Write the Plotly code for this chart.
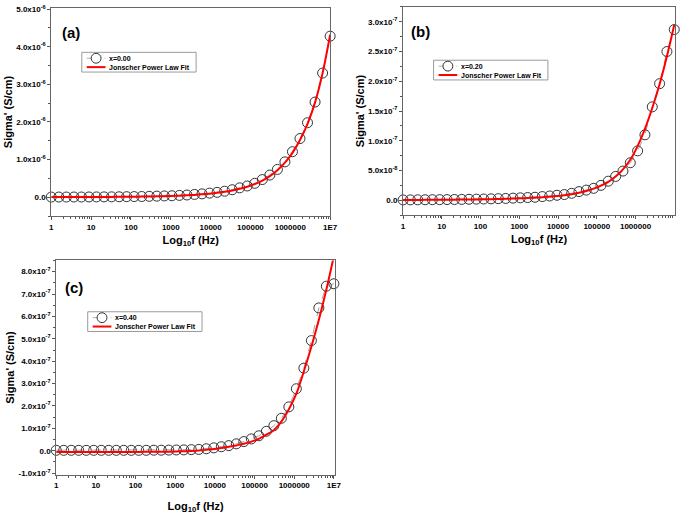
import plotly.graph_objects as go

# ---------------- data ----------------
freq_hz = [1, 1.546, 2.390, 3.695, 5.712, 8.830, 13.65, 21.10, 32.62, 50.43,
           77.96, 120.5, 186.3, 288.0, 445.3, 688.4, 1064, 1645, 2543, 3932,
           6079, 9397, 14530, 22460, 34720, 53680, 82990, 128300, 198300, 306700,
           474100, 732900, 1133000, 1751000, 2707000, 4185000, 6470000, 10000000]

# panel (a) x=0.00, units of 1e-6 S/cm
sigma_a = [0.005, 0.006, 0.006, 0.007, 0.007, 0.008, 0.009, 0.010, 0.011, 0.013,
           0.015, 0.018, 0.020, 0.025, 0.030, 0.035, 0.040, 0.050, 0.060, 0.075,
           0.09, 0.11, 0.13, 0.16, 0.20, 0.25, 0.30, 0.37, 0.47, 0.59,
           0.74, 0.94, 1.21, 1.56, 1.98, 2.53, 3.30, 4.28]
fit_a = [0.004, 0.005, 0.005, 0.006, 0.006, 0.007, 0.008, 0.009, 0.010, 0.011,
         0.012, 0.014, 0.017, 0.020, 0.025, 0.030, 0.036, 0.043, 0.052, 0.063,
         0.077, 0.095, 0.117, 0.145, 0.18, 0.225, 0.28, 0.35, 0.44, 0.56,
         0.72, 0.92, 1.18, 1.52, 1.95, 2.52, 3.30, 4.32]

# panel (b) x=0.20, units of 1e-7 S/cm
sigma_b = [0.005, 0.006, 0.007, 0.008, 0.009, 0.010, 0.011, 0.012, 0.014, 0.016,
           0.018, 0.020, 0.023, 0.026, 0.030, 0.035, 0.040, 0.045, 0.050, 0.061,
           0.071, 0.083, 0.095, 0.116, 0.145, 0.17, 0.20, 0.25, 0.32, 0.40,
           0.49, 0.63, 0.83, 1.10, 1.57, 1.96, 2.50, 2.87]
fit_b = [0.004, 0.005, 0.005, 0.006, 0.007, 0.008, 0.009, 0.010, 0.011, 0.012,
         0.014, 0.016, 0.018, 0.021, 0.024, 0.028, 0.032, 0.037, 0.043, 0.050,
         0.060, 0.070, 0.083, 0.10, 0.125, 0.155, 0.195, 0.245, 0.31, 0.40,
         0.52, 0.68, 0.91, 1.20, 1.55, 1.95, 2.42, 2.95]

# panel (c) x=0.40, units of 1e-7 S/cm
sigma_c = [0.02, 0.02, 0.02, 0.02, 0.02, 0.02, 0.02, 0.02, 0.02, 0.02,
           0.02, 0.02, 0.02, 0.025, 0.025, 0.03, 0.035, 0.04, 0.05, 0.06,
           0.09, 0.13, 0.18, 0.23, 0.31, 0.41, 0.53, 0.67, 0.87, 1.12,
           1.45, 1.96, 2.77, 3.69, 4.92, 6.38, 7.35, 7.46]
fit_c = [-0.05, -0.05, -0.05, -0.05, -0.05, -0.05, -0.05, -0.05, -0.05, -0.05,
         -0.05, -0.05, -0.045, -0.045, -0.04, -0.04, -0.03, -0.02, -0.01, 0.01,
         0.04, 0.08, 0.12, 0.18, 0.24, 0.31, 0.41, 0.53, 0.72, 0.92,
         1.30, 1.85, 2.55, 3.55, 4.65, 5.85, 7.2, 8.7]

series_names = ["x=0.00", "x=0.20", "x=0.40"]
fit_name = "Jonscher Power Law Fit"
panel_labels = ["(a)", "(b)", "(c)"]

x_tick_vals = [1, 10, 100, 1000, 10000, 100000, 1000000, 10000000]
x_tick_text = ["1", "10", "100", "1000", "10000", "100000", "1000000", "1E7"]

y_ticks_a = [0, 1e-6, 2e-6, 3e-6, 4e-6, 5e-6]
y_text_a = ["0.0", "1.0x10<sup>-6</sup>", "2.0x10<sup>-6</sup>", "3.0x10<sup>-6</sup>",
            "4.0x10<sup>-6</sup>", "5.0x10<sup>-6</sup>"]
y_ticks_b = [0, 0.5e-7, 1.0e-7, 1.5e-7, 2.0e-7, 2.5e-7, 3.0e-7]
y_text_b = ["0.0", "5.0x10<sup>-8</sup>", "1.0x10<sup>-7</sup>", "1.5x10<sup>-7</sup>",
            "2.0x10<sup>-7</sup>", "2.5x10<sup>-7</sup>", "3.0x10<sup>-7</sup>"]
y_ticks_c = [-1e-7, 0, 1e-7, 2e-7, 3e-7, 4e-7, 5e-7, 6e-7, 7e-7, 8e-7]
y_text_c = ["-1.0x10<sup>-7</sup>", "0.0", "1.0x10<sup>-7</sup>", "2.0x10<sup>-7</sup>",
            "3.0x10<sup>-7</sup>", "4.0x10<sup>-7</sup>", "5.0x10<sup>-7</sup>",
            "6.0x10<sup>-7</sup>", "7.0x10<sup>-7</sup>", "8.0x10<sup>-7</sup>"]

# ---------------- figure ----------------
W, H = 685, 514
FONT = "Liberation Sans, Arial, sans-serif"
fig = go.Figure()

panels = [
    (sigma_a, fit_a, 1e-6, ""),
    (sigma_b, fit_b, 1e-7, "2"),
    (sigma_c, fit_c, 1e-7, "3"),
]
for i, (dat, fit, scale, ax) in enumerate(panels):
    fig.add_trace(go.Scatter(
        x=freq_hz, y=[v * scale for v in dat], mode="lines+markers",
        name=series_names[i], showlegend=False,
        xaxis="x" + ax, yaxis="y" + ax, cliponaxis=False,
        line=dict(color="#8a8a8a", width=0.8, dash="dash"),
        marker=dict(symbol="circle-open", size=10, color="#333333",
                    line=dict(width=1, color="#333333"))))
    fig.add_trace(go.Scatter(
        x=freq_hz, y=[v * scale for v in fit], mode="lines",
        name=fit_name, showlegend=False,
        xaxis="x" + ax, yaxis="y" + ax,
        line=dict(color="#ff0000", width=2, shape="spline")))

minor_x = [m * 10 ** e for e in range(7) for m in range(2, 10)]


def xaxis(domain, anchor, tickvals, rng, standoff=5):
    return dict(type="log", domain=domain, anchor=anchor, range=rng,
                tickvals=tickvals, ticktext=[x_tick_text[x_tick_vals.index(t)] for t in tickvals],
                ticks="outside", ticklen=3, tickwidth=1, tickcolor="#555",
                minor=dict(tickvals=minor_x, ticks="outside", ticklen=2,
                           tickcolor="#555", showgrid=False),
                showline=True, linecolor="#666", linewidth=1, mirror=True,
                showgrid=False, zeroline=False,
                tickfont=dict(size=8, family=FONT, color="black", weight="bold"),
                title=dict(text="Log<sub>10</sub>f (Hz)", standoff=standoff,
                           font=dict(size=11, family=FONT, color="black", weight="bold")))


def yaxis(domain, anchor, tickvals, ticktext, rng, minor_dt):
    return dict(domain=domain, anchor=anchor, range=rng,
                tickvals=tickvals, ticktext=ticktext,
                ticks="outside", ticklen=3, tickwidth=1, tickcolor="#555",
                minor=dict(dtick=minor_dt, ticks="outside", ticklen=2,
                           tickcolor="#555", showgrid=False),
                showline=True, linecolor="#666", linewidth=1, mirror=True,
                showgrid=False, zeroline=False, ticklabeloverflow="allow",
                tickfont=dict(size=8, family=FONT, color="black", weight="bold"),
                title=dict(text="Sigma' (S/cm)", standoff=1,
                           font=dict(size=11, family=FONT, color="black", weight="bold")))


def px(x0, x1):
    return [x0 / W, x1 / W]


def py(ytop, ybot):
    return [1 - ybot / H, 1 - ytop / H]


fig.update_layout(
    xaxis=xaxis(px(50, 333), "y", x_tick_vals, [0, 7.0]),
    yaxis=yaxis(py(4, 215), "x", y_ticks_a, y_text_a, [-0.5e-6, 5.03e-6], 0.5e-6),
    xaxis2=xaxis(px(407, 683), "y2", x_tick_vals[:-1], [0, 7.02]),
    yaxis2=yaxis(py(3, 214), "x2", y_ticks_b, y_text_b, [-0.25e-7, 3.25e-7], 0.25e-7),
    xaxis3=xaxis(px(55, 338), "y3", x_tick_vals, [0, 7.03], standoff=13),
    yaxis3=yaxis(py(260, 477), "x3", y_ticks_c, y_text_c, [-1.06e-7, 8.5e-7], 0.5e-7),
)

# ---------------- compact Origin-style legends (decoration, paper coords) ----------------
legend_boxes = [(81, 49), (438, 57), (87, 312)]   # left, top in pixels
LEG_W, LEG_H = 116, 20


def X(p):
    return p / W


def Y(p):
    return 1 - p / H


for i, (lx, ly) in enumerate(legend_boxes):
    r1, r2 = ly + 6, ly + 15
    fig.add_shape(type="rect", xref="paper", yref="paper",
                  x0=X(lx), x1=X(lx + LEG_W), y0=Y(ly + LEG_H), y1=Y(ly),
                  line=dict(color="#9a9a9a", width=1), fillcolor="white", layer="above")
    fig.add_shape(type="line", xref="paper", yref="paper",
                  x0=X(lx + 5), x1=X(lx + 24), y0=Y(r1), y1=Y(r1),
                  line=dict(color="#9a9a9a", width=0.8, dash="dash"), layer="above")
    fig.add_shape(type="circle", xref="paper", yref="paper",
                  x0=X(lx + 9.5), x1=X(lx + 19.5), y0=Y(r1 + 5), y1=Y(r1 - 5),
                  line=dict(color="#333333", width=1), fillcolor="white", layer="above")
    fig.add_shape(type="line", xref="paper", yref="paper",
                  x0=X(lx + 5), x1=X(lx + 24), y0=Y(r2), y1=Y(r2),
                  line=dict(color="#ff0000", width=2), layer="above")
    for txt, ry in ((series_names[i], r1), (fit_name, r2)):
        fig.add_annotation(text=txt, x=X(lx + 26), y=Y(ry), xref="paper", yref="paper",
                           xanchor="left", yanchor="middle", showarrow=False,
                           font=dict(size=7, family=FONT, color="black", weight="bold"))

label_pos = [(59, 29), (413, 28), (62, 287)]
for lab, (lx, ly) in zip(panel_labels, label_pos):
    fig.add_annotation(text=lab, x=lx / W, y=1 - ly / H, xref="paper", yref="paper",
                       xanchor="left", yanchor="middle", showarrow=False,
                       font=dict(size=15, family=FONT, color="black", weight="bold"))

fig.update_layout(width=W, height=H, autosize=False, showlegend=False,
                  margin=dict(l=0, r=0, t=0, b=0),
                  paper_bgcolor="white", plot_bgcolor="white",
                  font=dict(family=FONT, color="black"))

fig.write_html("out.html", config={"displayModeBar": False},
               post_script="document.documentElement.style.margin='0';"
                           "document.body.style.margin='0';"
                           "document.documentElement.style.overflow='hidden';"
                           "document.body.style.overflow='hidden';")
